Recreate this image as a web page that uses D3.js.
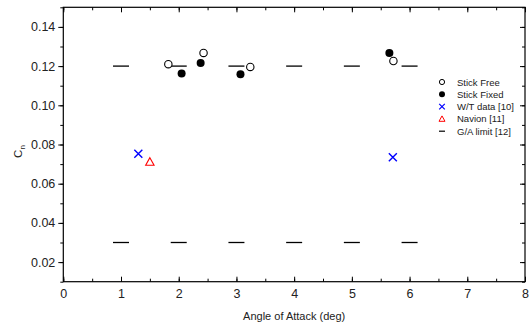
<!DOCTYPE html>
<html>
<head>
<meta charset="utf-8">
<script src="https://cdn.jsdelivr.net/npm/d3@7"></script>
<style>
  body { margin: 0; background: #fff; }
  svg { font-family: Arial, "Liberation Sans", sans-serif; }
</style>
</head>
<body>
<svg id="chart" width="530" height="326"></svg>
<script>
// values
const stickFreeAoa = [1.82, 2.43, 3.24, 5.72];
const stickFreeCn  = [0.121, 0.1267, 0.1196, 0.1226];
const stickFixedAoa = [2.05, 2.38, 3.07, 5.65];
const stickFixedCn  = [0.1162, 0.1216, 0.1158, 0.1267];
const wtAoa = [1.3, 5.71];
const wtCn  = [0.0753, 0.0735];
const navionAoa = [1.5];
const navionCn  = [0.0711];
const gaAoa = [1, 2, 3, 4, 5, 6];
const gaUpper = 0.12;
const gaLower = 0.03;
const xTicks = [0, 1, 2, 3, 4, 5, 6, 7, 8];
const yTicks = [0.02, 0.04, 0.06, 0.08, 0.10, 0.12, 0.14];
const legendLabels = ['Stick Free', 'Stick Fixed', 'W/T data [10]', 'Navion [11]', 'G/A limit [12]'];

const margin = {left: 63.3, top: 7.3, right: 5, bottom: 44.3};
const width = 530 - margin.left - margin.right;
const height = 326 - margin.top - margin.bottom;

const svg = d3.select('#chart');
const g = svg.append('g').attr('transform', `translate(${margin.left},${margin.top})`);

const x = d3.scaleLinear().domain([0, 8]).range([0, width]);
const y = d3.scaleLinear().domain([0.01, 0.15]).range([height, 0]);

const xMinor = d3.range(0, 8.01, 0.5);
const yMinor = d3.range(0.01, 0.1501, 0.01);

// frame
g.append('rect').attr('width', width).attr('height', height)
  .attr('fill', 'none').attr('stroke', '#000').attr('stroke-width', 1.2);

// bottom axis, ticks inward
g.append('g').attr('transform', `translate(0,${height})`)
  .call(d3.axisBottom(x).tickValues(xTicks).tickFormat(d3.format('d')).tickSize(-5).tickPadding(7))
  .call(a => a.select('.domain').remove())
  .call(a => a.selectAll('text').attr('font-size', 12.5).attr('fill', '#222'));
g.append('g').attr('transform', `translate(0,${height})`)
  .call(d3.axisBottom(x).tickValues(xMinor).tickFormat('').tickSize(-3))
  .call(a => a.select('.domain').remove());
// top axis
g.append('g')
  .call(d3.axisTop(x).tickValues(xTicks).tickFormat('').tickSize(-5))
  .call(a => a.select('.domain').remove());
g.append('g')
  .call(d3.axisTop(x).tickValues(xMinor).tickFormat('').tickSize(-3))
  .call(a => a.select('.domain').remove());

// left axis, ticks outward
g.append('g')
  .call(d3.axisLeft(y).tickValues(yTicks).tickFormat(d3.format('.2f')).tickSize(5).tickPadding(3))
  .call(a => a.select('.domain').remove())
  .call(a => a.selectAll('text').attr('font-size', 12.5).attr('fill', '#222'));
g.append('g')
  .call(d3.axisLeft(y).tickValues(yMinor).tickFormat('').tickSize(3))
  .call(a => a.select('.domain').remove());
// right axis, ticks inward
g.append('g').attr('transform', `translate(${width},0)`)
  .call(d3.axisRight(y).tickValues(yTicks).tickFormat('').tickSize(-5))
  .call(a => a.select('.domain').remove());
g.append('g').attr('transform', `translate(${width},0)`)
  .call(d3.axisRight(y).tickValues(yMinor).tickFormat('').tickSize(-3))
  .call(a => a.select('.domain').remove());

// axis titles
svg.append('text')
  .attr('x', margin.left + width / 2).attr('y', 319.5)
  .attr('text-anchor', 'middle').attr('font-size', 11).attr('fill', '#222')
  .text('Angle of Attack (deg)');
const yt = svg.append('text')
  .attr('transform', `translate(22,${margin.top + height / 2 + 7}) rotate(-90)`)
  .attr('text-anchor', 'middle').attr('font-size', 11.5).attr('fill', '#222');
yt.append('tspan').text('C');
yt.append('tspan').attr('font-size', 8).attr('dy', 3).text('n');

// G/A limit dashes
const dashW = 16;
[gaUpper, gaLower].forEach(lim => {
  g.append('g').selectAll('line')
    .data(gaAoa)
    .join('line')
    .attr('x1', d => x(d) - dashW / 2).attr('x2', d => x(d) + dashW / 2)
    .attr('y1', y(lim)).attr('y2', y(lim))
    .attr('stroke', '#000').attr('stroke-width', 1.3);
});

// stick fixed (filled)
g.append('g').selectAll('circle')
  .data(d3.zip(stickFixedAoa, stickFixedCn))
  .join('circle')
  .attr('cx', d => x(d[0])).attr('cy', d => y(d[1])).attr('r', 4)
  .attr('fill', '#000');

// stick free (open)
g.append('g').selectAll('circle')
  .data(d3.zip(stickFreeAoa, stickFreeCn))
  .join('circle')
  .attr('cx', d => x(d[0])).attr('cy', d => y(d[1])).attr('r', 3.7)
  .attr('fill', '#fff').attr('stroke', '#000').attr('stroke-width', 1.1);

// W/T crosses
const crossPath = s => `M${-s},${-s}L${s},${s}M${-s},${s}L${s},${-s}`;
g.append('g').selectAll('path')
  .data(d3.zip(wtAoa, wtCn))
  .join('path')
  .attr('transform', d => `translate(${x(d[0])},${y(d[1])})`)
  .attr('d', crossPath(4))
  .attr('stroke', '#0000ff').attr('stroke-width', 1.4).attr('fill', 'none');

// Navion triangle
const triPath = s => `M0,${-s}L${s},${s * 0.8}L${-s},${s * 0.8}Z`;
g.append('g').selectAll('path')
  .data(d3.zip(navionAoa, navionCn))
  .join('path')
  .attr('transform', d => `translate(${x(d[0])},${y(d[1])})`)
  .attr('d', triPath(4.2))
  .attr('stroke', '#ff0000').attr('stroke-width', 1.1).attr('fill', 'none');

// legend
const leg = svg.append('g').attr('transform', 'translate(442,82)');
const rowH = 12.3;
legendLabels.forEach((lab, i) => {
  const row = leg.append('g').attr('transform', `translate(0,${i * rowH})`);
  if (i === 0) row.append('circle').attr('r', 2.6).attr('fill', '#fff').attr('stroke', '#000');
  if (i === 1) row.append('circle').attr('r', 3).attr('fill', '#000');
  if (i === 2) row.append('path').attr('d', crossPath(2.8)).attr('stroke', '#0000ff').attr('stroke-width', 1.2);
  if (i === 3) row.append('path').attr('d', triPath(3)).attr('stroke', '#ff0000').attr('fill', 'none');
  if (i === 4) row.append('line').attr('x1', -3).attr('x2', 3).attr('stroke', '#000').attr('stroke-width', 1.2);
  row.append('text').attr('x', 15).attr('y', 3.5)
    .attr('font-size', 9.5).attr('fill', '#222').text(lab);
});
</script>
</body>
</html>
